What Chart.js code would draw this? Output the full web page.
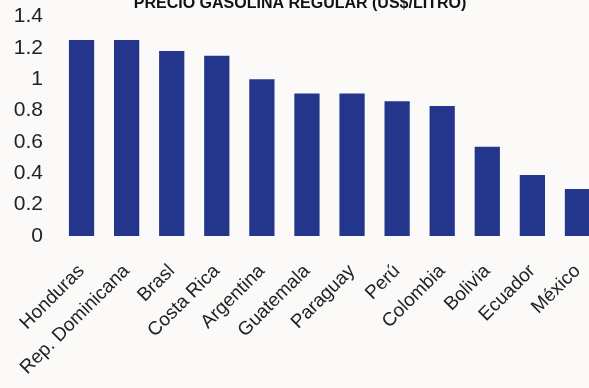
<!DOCTYPE html>
<html>
<head>
<meta charset="utf-8">
<script src="https://cdn.jsdelivr.net/npm/chart.js@4.4.1/dist/chart.umd.min.js"></script>
<style>
  html, body { margin: 0; padding: 0; background: #fbfaf8; overflow: hidden; }
  #wrap { position: absolute; left: 0; top: -12px; width: 600px; height: 400px; }
</style>
</head>
<body>
<div id="wrap"><canvas id="gasChart"></canvas></div>
<script>
const countries = ["Honduras", "Rep. Dominicana", "Brasl", "Costa Rica", "Argentina", "Guatemala",
  "Paraguay", "Perú", "Colombia", "Bolivia", "Ecuador", "México"];
const prices = [1.25, 1.25, 1.18, 1.15, 1.0, 0.91, 0.91, 0.86, 0.83, 0.57, 0.39, 0.30];
const titleText = "PRECIO GASOLINA REGULAR (US$/LITRO)";

const sans = "'Liberation Sans', Arial, sans-serif";

const ctx = document.getElementById("gasChart").getContext("2d");
const chart = new Chart(ctx, {
  type: "bar",
  data: {
    labels: countries,
    datasets: [{
      data: prices,
      backgroundColor: "#24368c",
      barPercentage: 0.56,
      categoryPercentage: 1.0
    }]
  },
  options: {
    responsive: true,
    maintainAspectRatio: false,
    animation: false,
    layout: { padding: 0 },
    plugins: {
      legend: { display: false },
      tooltip: { enabled: false },
      title: {
        display: true,
        text: titleText,
        color: "#111",
        font: { family: sans, size: 16, weight: "bold" },
        padding: { top: 0, bottom: 3 }
      }
    },
    scales: {
      x: {
        grid: { display: false, drawTicks: false },
        border: { display: false },
        ticks: {
          color: "#222",
          font: { family: sans, size: 19 },
          minRotation: 45,
          maxRotation: 45,
          padding: 24,
          autoSkip: false
        },
        afterFit: (scale) => {
          scale.height = 152;
          // let the rotated labels hang past the left edge like the original
          scale.paddingLeft = 0;
          scale.paddingRight = 0;
        }
      },
      y: {
        min: 0,
        max: 1.4,
        grid: { display: false, drawTicks: false },
        border: { display: false },
        ticks: {
          stepSize: 0.2,
          color: "#222",
          font: { family: sans, size: 21 },
          padding: 16,
          callback: (v) => Math.round(v * 10) / 10
        },
        afterFit: (scale) => { scale.width = 59; }
      }
    }
  }
});
</script>
</body>
</html>
